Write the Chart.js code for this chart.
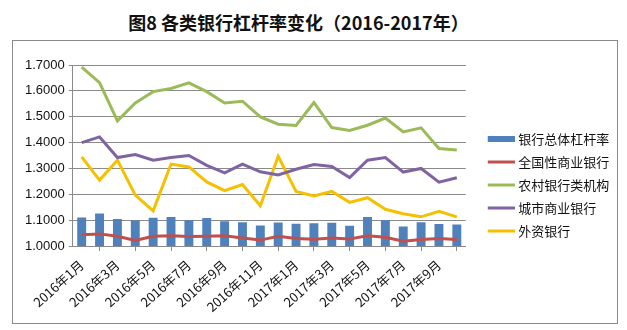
<!DOCTYPE html>
<html>
<head>
<meta charset="utf-8">
<script src="https://cdn.jsdelivr.net/npm/chart.js@4.4.1/dist/chart.umd.min.js"></script>
<style>
  body { margin: 0; background: #fff; width: 627px; height: 330px; position: relative; overflow: hidden; }
  #title { position: absolute; left: 0; top: 9px; width: 597px; text-align: center;
           font: bold 18px "Noto Sans CJK SC", sans-serif; color: #111; }
  #frame { position: absolute; left: 12px; top: 40px; width: 604px; height: 282px; border: 1px solid #8a8a8a; }
  #chart { display: block; }
</style>
</head>
<body>
<div id="title">图8 各类银行杠杆率变化（2016-2017年）</div>
<div id="frame"><canvas id="chart" width="604" height="282"></canvas></div>
<script>
// 月份
const months = [
  "2016年1月", "2016年2月", "2016年3月", "2016年4月", "2016年5月", "2016年6月",
  "2016年7月", "2016年8月", "2016年9月", "2016年10月", "2016年11月", "2016年12月",
  "2017年1月", "2017年2月", "2017年3月", "2017年4月", "2017年5月", "2017年6月",
  "2017年7月", "2017年8月", "2017年9月", "2017年10月"
];

// 银行总体杠杆率（柱）
const overall = [1.110, 1.126, 1.105, 1.099, 1.109, 1.112, 1.100, 1.108, 1.096, 1.092, 1.079,
                 1.091, 1.086, 1.088, 1.090, 1.078, 1.112, 1.100, 1.076, 1.092, 1.085, 1.083];

// 全国性商业银行
const national = [1.044, 1.047, 1.038, 1.022, 1.038, 1.040, 1.037, 1.038, 1.040, 1.031, 1.023,
                  1.038, 1.029, 1.026, 1.031, 1.027, 1.040, 1.034, 1.019, 1.025, 1.029, 1.025];

// 农村银行类机构
const rural = [1.692, 1.632, 1.484, 1.553, 1.597, 1.609, 1.631, 1.597, 1.553, 1.560, 1.499,
               1.471, 1.466, 1.555, 1.458, 1.447, 1.467, 1.495, 1.441, 1.457, 1.377, 1.371];

// 城市商业银行
const city = [1.400, 1.422, 1.342, 1.354, 1.332, 1.342, 1.350, 1.312, 1.283, 1.317, 1.287,
              1.275, 1.297, 1.315, 1.308, 1.265, 1.332, 1.342, 1.286, 1.300, 1.247, 1.264];

// 外资银行
const foreign = [1.345, 1.255, 1.332, 1.197, 1.136, 1.317, 1.306, 1.248, 1.214, 1.238, 1.156,
                 1.347, 1.211, 1.194, 1.211, 1.169, 1.187, 1.142, 1.125, 1.113, 1.134, 1.113];

const yTicks = { min: 1.0, max: 1.7, step: 0.1 };

// 图例标记：画在小画布右侧，让标记紧挨文字
function marker(color, h) {
  const c = document.createElement("canvas");
  c.width = 42;
  c.height = 8;
  const g = c.getContext("2d");
  g.fillStyle = color;
  g.fillRect(15, (8 - h) / 2, 27, h);
  return c;
}

function lineSet(label, data, color) {
  return {
    type: "line", label: label, data: data,
    borderColor: color, backgroundColor: color, borderWidth: 3,
    pointRadius: 0, pointStyle: marker(color, 3), tension: 0, order: 0
  };
}

const ctx = document.getElementById("chart");
new Chart(ctx, {
  data: {
    labels: months,
    datasets: [
      {
        type: "bar", label: "银行总体杠杆率", data: overall,
        backgroundColor: "#4F81BD", pointStyle: marker("#4F81BD", 6),
        barPercentage: 0.5, categoryPercentage: 1.0, order: 1
      },
      lineSet("全国性商业银行", national, "#C0504D"),
      lineSet("农村银行类机构", rural, "#9BBB59"),
      lineSet("城市商业银行", city, "#8064A2"),
      lineSet("外资银行", foreign, "#F5C000")
    ]
  },
  options: {
    responsive: false,
    animation: false,
    layout: { padding: { left: 8, top: 8, right: 3, bottom: 2 } },
    plugins: {
      // 空标题只占绘图区上方的空白，不影响右侧图例
      title: { display: true, text: " ", fullSize: false, font: { size: 10 }, padding: { top: 0, bottom: 4 } },
      tooltip: { enabled: false },
      legend: {
        position: "right",
        labels: {
          usePointStyle: true,
          pointStyleWidth: 36,
          boxHeight: 8,
          padding: 10,
          color: "#111",
          font: { family: "'Noto Sans CJK SC', sans-serif", size: 13 },
          sort: (a, b) => a.datasetIndex - b.datasetIndex
        }
      }
    },
    scales: {
      x: {
        offset: true,
        grid: { display: true, drawOnChartArea: false, offset: true, tickLength: 5, color: "#8a8a8a" },
        border: { color: "#8a8a8a" },
        ticks: {
          autoSkip: false, maxRotation: 42, minRotation: 42, padding: 6,
          color: "#111",
          font: { family: "'Noto Sans CJK SC', sans-serif", size: 13 },
          callback: function (v, i) { return i % 2 === 0 ? months[i] : null; }
        }
      },
      y: {
        min: yTicks.min, max: yTicks.max,
        grid: { color: "#8a8a8a", tickLength: 4 },
        border: { color: "#8a8a8a" },
        ticks: {
          stepSize: yTicks.step, padding: 4, color: "#111",
          font: { family: "'Liberation Sans', Arial, sans-serif", size: 13 },
          callback: function (v) { return Number(v).toFixed(4); }
        }
      }
    }
  }
});
</script>
</body>
</html>
